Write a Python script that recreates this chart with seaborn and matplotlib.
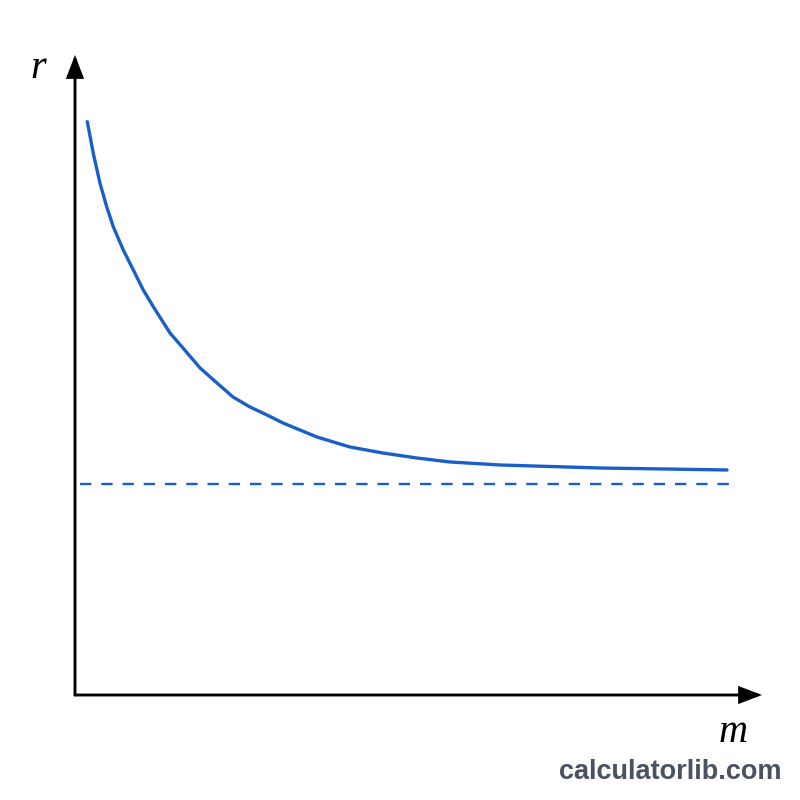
import matplotlib
matplotlib.use("Agg")
import matplotlib.pyplot as plt
import seaborn as sns
import pandas as pd

# Data (abstract units)
m_values = [0.179, 0.266, 0.364, 0.461, 0.557, 0.703, 0.849, 0.994, 1.140, 1.383,
            1.572, 1.820, 2.067, 2.300, 2.547, 2.795, 3.028, 3.523, 4.003, 4.483,
            4.978, 5.459, 6.186, 7.642, 9.49]
r_values = [8.958, 8.464, 7.995, 7.630, 7.317, 6.953, 6.641, 6.328, 6.067, 5.656,
            5.422, 5.110, 4.875, 4.656, 4.500, 4.375, 4.250, 4.031, 3.875, 3.781,
            3.703, 3.641, 3.594, 3.547, 3.516]
asymptote_m = [0.07, 9.61]
asymptote_r = [3.30, 3.30]
x_label = "m"
y_label = "r"
watermark = "calculatorlib.com"

sns.set_theme(style="white")
plt.rcParams['font.family'] = ['DejaVu Sans']

fig = plt.figure(figsize=(8, 8), dpi=100)
fig.patch.set_facecolor("white")
ax = fig.add_axes([75/800, 105/800, 687/800, 640/800])
ax.set_xlim(0, 10)
ax.set_ylim(0, 10)
ax.set_facecolor("white")
for s in ax.spines.values():
    s.set_visible(False)

blue = "#1a5fc8"
df = pd.DataFrame({"m": m_values, "r": r_values})
sns.lineplot(data=df, x="m", y="r", ax=ax, color=blue, linewidth=2.4,
             sort=False, estimator=None)
dash = pd.DataFrame({"m": asymptote_m, "r": asymptote_r})
sns.lineplot(data=dash, x="m", y="r", ax=ax, color=blue, linewidth=1.7,
             estimator=None)
ax.lines[-1].set_dashes((4.8, 4.2))
ax.set_xlabel("")
ax.set_ylabel("")
ax.set_xticks([])
ax.set_yticks([])

# axes arrows
arrow_kw = dict(arrowstyle="-|>,head_length=1.1,head_width=0.42", color="black",
                lw=2.1, shrinkA=0, shrinkB=0, joinstyle="miter")
ax.annotate("", xy=(10, 0), xytext=(0, 0), xycoords="data",
            arrowprops=arrow_kw, annotation_clip=False)
ax.annotate("", xy=(0, 10), xytext=(0, 0), xycoords="data",
            arrowprops=arrow_kw, annotation_clip=False)

fig.text(38/800, 1 - 69/800, y_label, family="Liberation Serif", style="italic",
         fontsize=29, ha="center", va="center", color="black")
fig.text(733/800, 1 - 732/800, x_label, family="Liberation Serif", style="italic",
         fontsize=29, ha="center", va="center", color="black")
fig.text(782/800, 1 - 772/800, watermark, family="Liberation Sans", weight="bold",
         fontsize=19.5, ha="right", va="center", color="#4a5160")

fig.savefig("out.png", dpi=100, facecolor="white")
